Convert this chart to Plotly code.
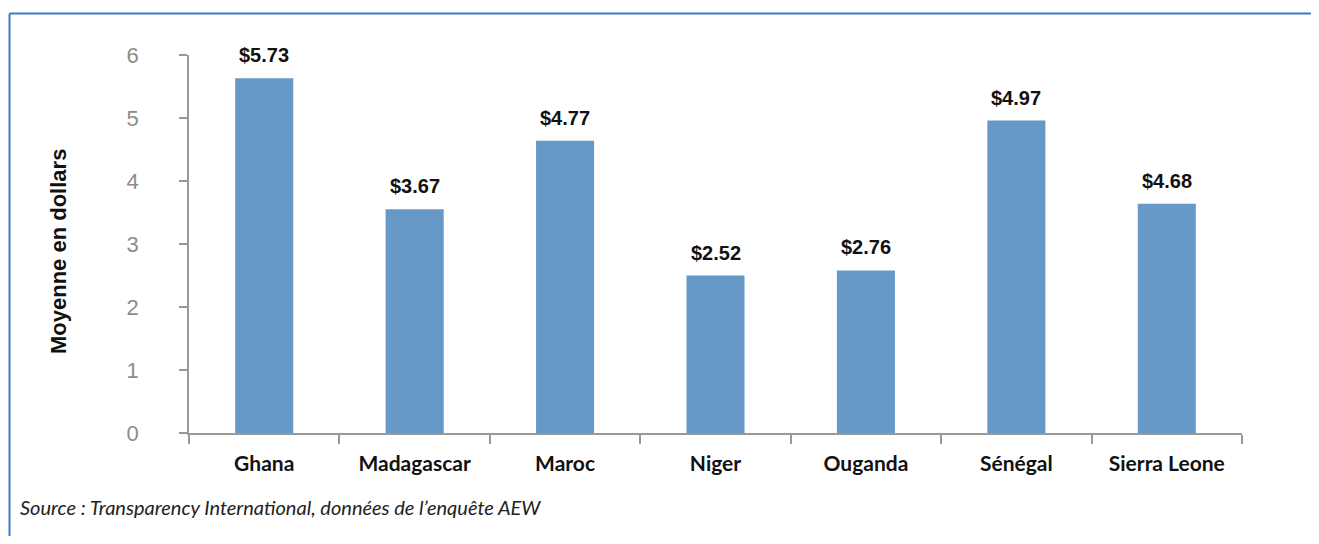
import plotly.graph_objects as go

# Data
countries = ["Ghana", "Madagascar", "Maroc", "Niger", "Ouganda", "Sénégal", "Sierra Leone"]
bar_heights = [5.63, 3.55, 4.64, 2.50, 2.58, 4.96, 3.64]
value_labels = ["$5.73", "$3.67", "$4.77", "$2.52", "$2.76", "$4.97", "$4.68"]
y_ticks = [0, 1, 2, 3, 4, 5, 6]

# the page body has an 8px margin; keep the figure inside it so no scrollbars show
OFF = 8
W, H = 1319 - 2 * OFF, 544 - 2 * OFF
L, T = 189 - OFF, 55 - OFF
R, B = W - (1242 - OFF), H - (433 - OFF)
PW = W - L - R
PH = H - T - B


def px_x(x):
    """page pixel -> paper x"""
    return (x - OFF - L) / PW


def px_y(y):
    """page pixel -> paper y"""
    return (H - B - (y - OFF)) / PH


fig = go.Figure(go.Bar(
    x=countries,
    y=bar_heights,
    width=0.386,
    marker_color="#6699C8",
    marker_line_width=0,
    hoverinfo="skip",
))

# Value labels above the bars
for c, h, lab in zip(countries, bar_heights, value_labels):
    fig.add_annotation(
        x=c, y=h, text=lab,
        showarrow=False, yanchor="bottom", yshift=10,
        font=dict(family="Liberation Sans, Arial", size=20, color="#111", weight="bold"),
    )

# Y title
fig.add_annotation(
    x=px_x(58), y=px_y(252), xref="paper", yref="paper",
    text="Moyenne en dollars", textangle=-90,
    showarrow=False, xanchor="center", yanchor="middle",
    font=dict(family="Liberation Sans, Arial", size=22, color="#111", weight="bold"),
)

# Source note
fig.add_annotation(
    x=px_x(18), y=px_y(507), xref="paper", yref="paper",
    text="Source : Transparency International, données de l’enquête AEW",
    showarrow=False, xanchor="left", yanchor="middle",
    font=dict(family="Lato, Roboto, sans-serif", size=20,
              color="#222", style="italic"),
)

# Blue frame: only the top and left edges are visible
frame = dict(color="#3A7CC0", width=2)
fig.add_shape(type="line", xref="paper", yref="paper",
              x0=px_x(9.5), x1=px_x(1330), y0=px_y(13.5), y1=px_y(13.5),
              line=frame, layer="below")
fig.add_shape(type="line", xref="paper", yref="paper",
              x0=px_x(9.5), x1=px_x(9.5), y0=px_y(13.5), y1=px_y(560),
              line=frame, layer="below")

fig.update_xaxes(
    showline=True, linecolor="#999", linewidth=1.5,
    ticks="outside", tickson="boundaries", ticklen=9, tickcolor="#999", tickwidth=1.5,
    tickangle=0, ticklabelstandoff=11,
    showgrid=False, zeroline=False,
    tickfont=dict(family="Lato, Roboto, sans-serif", size=21,
                  color="#111", weight="bold"),
)
fig.update_yaxes(
    range=[0, 6], tickvals=y_ticks,
    showline=True, linecolor="#999", linewidth=1.5,
    ticks="outside", ticklen=8, tickcolor="#999", tickwidth=1.5,
    ticklabelstandoff=36,
    showgrid=False, zeroline=False,
    tickfont=dict(family="Liberation Sans, Arial", size=22, color="#8C8C8C"),
)

fig.update_layout(
    width=W, height=H,
    margin=dict(l=L, r=R, t=T, b=B),
    plot_bgcolor="white", paper_bgcolor="white",
    showlegend=False,
)

fig.write_html("out.html")
